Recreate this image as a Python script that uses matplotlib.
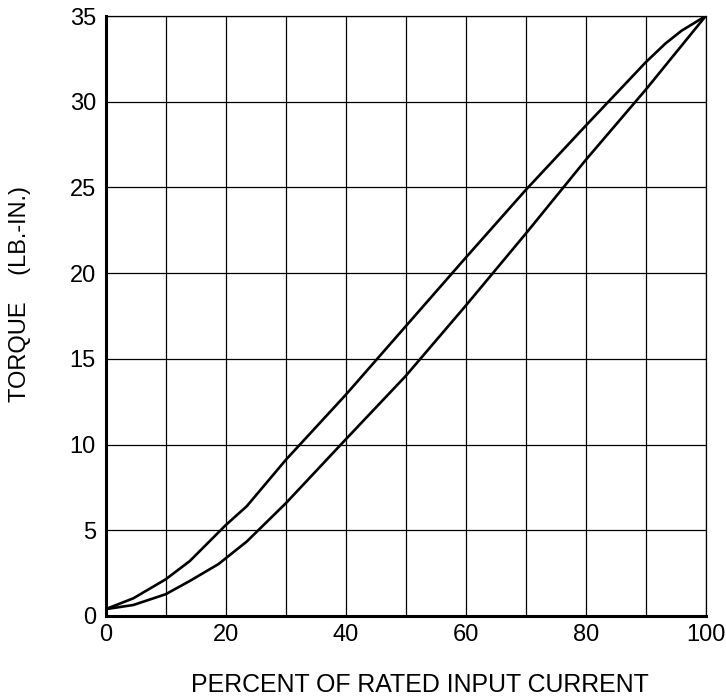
import matplotlib
matplotlib.use("Agg")
import matplotlib.pyplot as plt

# torque vs current, rising and falling branches of the hysteresis loop
upper_x = [0, 4.6, 10, 14, 20, 23.5, 30, 40, 50, 60, 70, 80, 90, 93.3, 96, 100]
upper_y = [0.4, 1.03, 2.14, 3.2, 5.3, 6.4, 9.1, 12.9, 16.9, 20.9, 24.85, 28.6, 32.3, 33.4, 34.15, 35]

lower_x = [0, 4.6, 10, 14, 18.8, 23.5, 30, 40, 50, 60, 70, 80, 90, 100]
lower_y = [0.4, 0.64, 1.27, 2.04, 3.03, 4.34, 6.57, 10.3, 14.0, 18.1, 22.3, 26.6, 30.7, 35]

x_ticks = [0, 20, 40, 60, 80, 100]
y_ticks = [0, 5, 10, 15, 20, 25, 30, 35]
grid_x = [10, 20, 30, 40, 50, 60, 70, 80, 90, 100]

plt.rcParams["font.family"] = ["Liberation Sans", "DejaVu Sans"]


def main() -> None:
    fig = plt.figure(figsize=(7.26, 6.98), dpi=100)
    ax = fig.add_axes([0.1456, 0.1175, 0.8264, 0.8595])

    ax.set_xlim(0, 100)
    ax.set_ylim(0, 35)

    for gx in grid_x:
        ax.axvline(gx, color="black", lw=0.9, zorder=1)
    for gy in y_ticks[1:]:
        ax.axhline(gy, color="black", lw=0.9, zorder=1)

    ax.plot(upper_x, upper_y, color="black", lw=1.9, zorder=3)
    ax.plot(lower_x, lower_y, color="black", lw=1.9, zorder=3)

    ax.set_xticks(x_ticks)
    ax.set_yticks(y_ticks)
    ax.set_xticklabels([str(v) for v in x_ticks], fontsize=17)
    ax.set_yticklabels([str(v) for v in y_ticks], fontsize=17)
    ax.tick_params(length=0)
    ax.tick_params(axis="x", pad=6)
    ax.tick_params(axis="y", pad=7)

    for side in ("left", "bottom"):
        ax.spines[side].set_linewidth(2.2)
    for side in ("top", "right"):
        ax.spines[side].set_linewidth(0.9)

    fig.text(0.578, 0.008, "PERCENT OF RATED INPUT CURRENT", ha="center", va="baseline",
             fontsize=17.9)
    fig.text(0.027, 0.579, "TORQUE    (LB.-IN.)", ha="center", va="center",
             rotation=90, fontsize=17)

    fig.savefig("out.png", dpi=100)
    plt.close(fig)


if __name__ == "__main__":
    main()
